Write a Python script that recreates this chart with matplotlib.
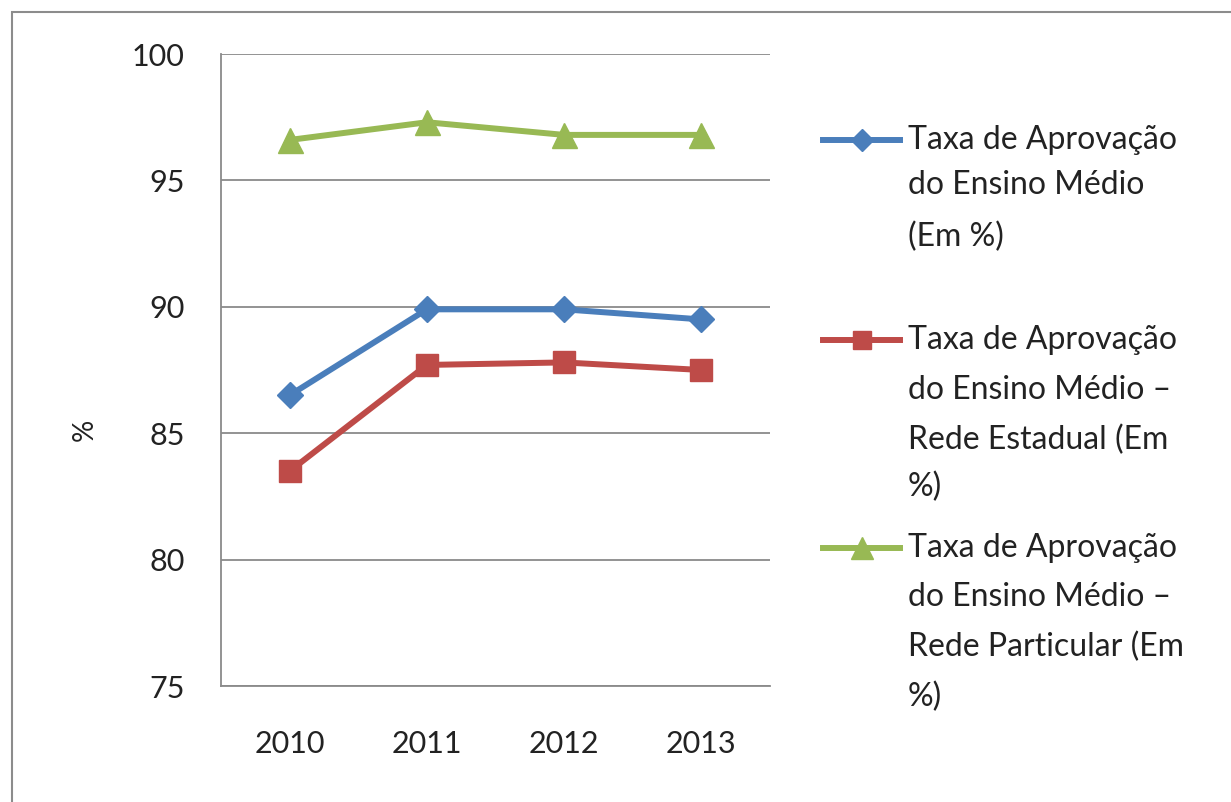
import matplotlib
matplotlib.use("Agg")
import matplotlib.pyplot as plt
from matplotlib.lines import Line2D
from matplotlib.patches import Rectangle

plt.rcParams['font.family'] = ['Lato', 'DejaVu Sans']

years = ['2010', '2011', '2012', '2013']
total = [86.5, 89.9, 89.9, 89.5]
estadual = [83.5, 87.7, 87.8, 87.5]
particular = [96.6, 97.3, 96.8, 96.8]

labels = [
    ['Taxa de Aprovação', 'do Ensino Médio', '(Em %)'],
    ['Taxa de Aprovação', 'do Ensino Médio –', 'Rede Estadual (Em', '%)'],
    ['Taxa de Aprovação', 'do Ensino Médio –', 'Rede Particular (Em', '%)'],
]
colors = ['#4A7EBB', '#BE4B48', '#98B954']
markers = ['D', 's', '^']
msizes = [13, 16, 18]

W, H = 1231, 802
fig = plt.figure(figsize=(W / 100, H / 100), dpi=100)
fig.patch.set_facecolor('white')

# outer chart frame (only top/left visible in the crop)
fig.patches.append(Rectangle((12 / W, -0.1), 1.2, 1 - 12 / H + 0.1,
                             transform=fig.transFigure, fill=False,
                             edgecolor='#8c8c8c', lw=1.5))

ax = fig.add_axes([221 / W, 1 - 686 / H, (770 - 221) / W, (686 - 54) / H])
x = range(len(years))
for vals, c, m, ms in zip([total, estadual, particular], colors, markers, msizes):
    ax.plot(x, vals, color=c, lw=4.3, marker=m, markersize=ms,
            markeredgecolor=c, solid_joinstyle='round')

ax.set_xlim(-0.5, len(years) - 0.5)
ax.set_ylim(75, 100)
ax.set_yticks([75, 80, 85, 90, 95, 100])
ax.set_xticks(list(x))
ax.set_xticklabels(years)
ax.yaxis.grid(True, color='#8a8a8a', lw=1.3)
ax.set_axisbelow(True)
for s in ['top', 'right']:
    ax.spines[s].set_visible(False)
ax.spines['left'].set_color('#8a8a8a')
ax.spines['bottom'].set_color('#8a8a8a')
ax.spines['left'].set_linewidth(1.3)
ax.spines['bottom'].set_linewidth(1.3)
ax.tick_params(axis='both', length=0, labelsize=22, colors='#222222')
ax.tick_params(axis='y', pad=26)
ax.tick_params(axis='x', pad=32)

# y label sits lower than the axis centre in the original
fig.text(85 / W, 1 - 430 / H, '%', fontsize=20, color='#222222',
         rotation=90, ha='center', va='center')

# legend drawn by hand, handle aligned with first text line
line_ys = [[140, 185, 237], [340, 390, 440, 487], [548, 597, 647, 697]]
for lines, ys, c, m, ms in zip(labels, line_ys, colors, markers, msizes):
    y0 = 1 - ys[0] / H
    fig.add_artist(Line2D([823 / W, 900 / W], [y0, y0], color=c, lw=4.3,
                          transform=fig.transFigure))
    fig.add_artist(Line2D([862 / W], [y0], color=c, marker=m,
                          markersize=ms * 0.85, markeredgecolor=c,
                          transform=fig.transFigure))
    for t, yy in zip(lines, ys):
        fig.text(908 / W, 1 - yy / H, t, fontsize=23, color='#222222',
                 va='center', ha='left')

fig.savefig('out.png', dpi=100)
